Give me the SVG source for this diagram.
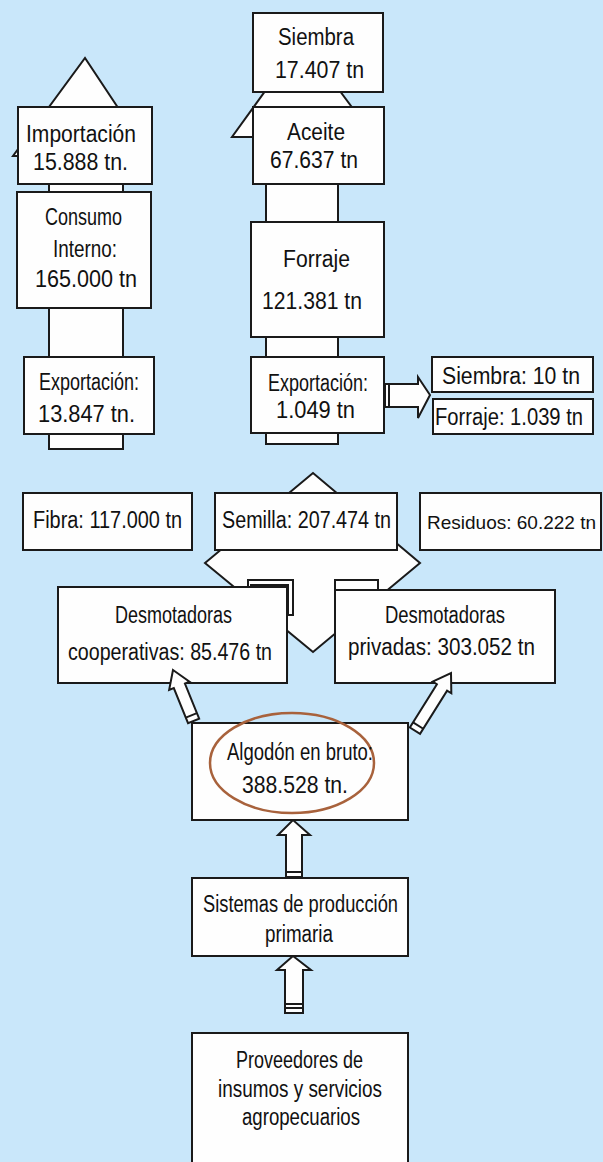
<svg xmlns="http://www.w3.org/2000/svg" width="603" height="1162" viewBox="0 0 603 1162">
<style>
.bg{fill:#c9e7fa}
.box{fill:#fefefe;stroke:#1a1a1a;stroke-width:2}
.arr{fill:#fefefe;stroke:#1a1a1a;stroke-width:2;stroke-linejoin:miter}
.ln{fill:none;stroke:#1a1a1a;stroke-width:2}
.ell{fill:none;stroke:#a8623c;stroke-width:2.5}
text{font-family:"Liberation Sans",Arial,sans-serif;font-size:23px;fill:#111}
</style>
<rect class="bg" width="603" height="1162"/>
<g id="connectors">
  <polygon class="arr" points="49,449 49,156 13,156 85,58 150,156 123,156 123,449"/>
  <polygon class="arr" points="266,444 266,137 232,137 302,40 374,137 338,137 338,444"/>
  <polygon class="arr" points="205,563 313,473 420,563 313,652"/>
  <rect class="arr" x="248" y="580" width="45" height="35"/>
  <polyline class="ln" points="250,585 288,585 288,615"/>
  <rect class="arr" x="335" y="580" width="43" height="12"/>
  <polygon class="arr" points="385,384 418,384 418,377 430,395 418,418 418,407 385,407"/>
  <line class="ln" x1="389" y1="384" x2="389" y2="407"/>
  <polygon class="arr" points="286,877 286,835 278,835 293,820 310,835 302,835 302,877"/>
  <line class="ln" x1="286" y1="872" x2="302" y2="872"/>
  <polygon class="arr" points="285,1013 285,970 277,970 293,956 311,970 303,970 303,1013"/>
  <line class="ln" x1="285" y1="1004" x2="303" y2="1004"/>
  <line class="ln" x1="285" y1="1008" x2="303" y2="1008"/>
</g>
<g id="importacion"><rect class="box" x="18" y="107" width="134" height="77"/>
  <text x="26" y="142" textLength="110" lengthAdjust="spacingAndGlyphs">Importación</text>
  <text x="33" y="170" textLength="95" lengthAdjust="spacingAndGlyphs">15.888 tn.</text></g>
<g id="consumo"><rect class="box" x="17" y="192" width="134" height="116"/>
  <text x="45" y="225" textLength="77" lengthAdjust="spacingAndGlyphs">Consumo</text>
  <text x="53" y="257" textLength="64" lengthAdjust="spacingAndGlyphs">Interno:</text>
  <text x="35" y="287" textLength="102" lengthAdjust="spacingAndGlyphs">165.000 tn</text></g>
<g id="exportacion-fibra"><rect class="box" x="24" y="357" width="130" height="77"/>
  <text x="39" y="390" textLength="100" lengthAdjust="spacingAndGlyphs">Exportación:</text>
  <text x="38" y="422" textLength="97" lengthAdjust="spacingAndGlyphs">13.847 tn.</text></g>
<g id="siembra"><rect class="box" x="253" y="13" width="130" height="79"/>
  <text x="278" y="45" textLength="76" lengthAdjust="spacingAndGlyphs">Siembra</text>
  <text x="275" y="78" textLength="89" lengthAdjust="spacingAndGlyphs">17.407 tn</text></g>
<g id="aceite"><rect class="box" x="253" y="107" width="131" height="77"/>
  <text x="287" y="140" textLength="58" lengthAdjust="spacingAndGlyphs">Aceite</text>
  <text x="270" y="168" textLength="88" lengthAdjust="spacingAndGlyphs">67.637 tn</text></g>
<g id="forraje"><rect class="box" x="251" y="222" width="133" height="115"/>
  <text x="283" y="267" textLength="67" lengthAdjust="spacingAndGlyphs">Forraje</text>
  <text x="262" y="309" textLength="100" lengthAdjust="spacingAndGlyphs">121.381 tn</text></g>
<g id="exportacion-semilla"><rect class="box" x="251" y="357" width="133" height="76"/>
  <text x="268" y="391" textLength="100" lengthAdjust="spacingAndGlyphs">Exportación:</text>
  <text x="276" y="418" textLength="79" lengthAdjust="spacingAndGlyphs">1.049 tn</text></g>
<g id="siembra-export"><rect class="box" x="432" y="357" width="161" height="35"/>
  <text x="442" y="384" textLength="138" lengthAdjust="spacingAndGlyphs">Siembra: 10 tn</text></g>
<g id="forraje-export"><rect class="box" x="433" y="399" width="160" height="35"/>
  <text x="435" y="425" textLength="148" lengthAdjust="spacingAndGlyphs">Forraje: 1.039 tn</text></g>
<g id="fibra"><rect class="box" x="23" y="493" width="169" height="57"/>
  <text x="33" y="528" textLength="149" lengthAdjust="spacingAndGlyphs">Fibra: 117.000 tn</text></g>
<g id="semilla"><rect class="box" x="215" y="493" width="182" height="57"/>
  <text x="222" y="528" textLength="169" lengthAdjust="spacingAndGlyphs">Semilla: 207.474 tn</text></g>
<g id="residuos"><rect class="box" x="420" y="493" width="181" height="57"/>
  <text x="427" y="529" style="font-size:19px">Residuos: 60.222 tn</text></g>
<g id="desmotadoras-cooperativas"><rect class="box" x="58" y="587" width="229" height="96"/>
  <text x="115" y="623" textLength="117" lengthAdjust="spacingAndGlyphs">Desmotadoras</text>
  <text x="68" y="660" textLength="204" lengthAdjust="spacingAndGlyphs">cooperativas: 85.476 tn</text></g>
<g id="desmotadoras-privadas"><rect class="box" x="335" y="590" width="220" height="93"/>
  <text x="385" y="623" textLength="120" lengthAdjust="spacingAndGlyphs">Desmotadoras</text>
  <text x="348" y="655" textLength="187" lengthAdjust="spacingAndGlyphs">privadas: 303.052 tn</text></g>
<g id="algodon"><rect class="box" x="192" y="723" width="216" height="97"/>
  <ellipse class="ell" cx="292" cy="763" rx="82" ry="50"/>
  <text x="227" y="760" textLength="146" lengthAdjust="spacingAndGlyphs">Algodón en bruto:</text>
  <text x="242" y="793" textLength="106" lengthAdjust="spacingAndGlyphs">388.528 tn.</text></g>
<g id="sistemas"><rect class="box" x="192" y="878" width="216" height="78"/>
  <text x="203" y="912" textLength="195" lengthAdjust="spacingAndGlyphs">Sistemas de producción</text>
  <text x="265" y="942" textLength="68" lengthAdjust="spacingAndGlyphs">primaria</text></g>
<g id="proveedores"><rect class="box" x="192" y="1033" width="216" height="140"/>
  <text x="236" y="1068" textLength="127" lengthAdjust="spacingAndGlyphs">Proveedores de</text>
  <text x="218" y="1097" textLength="164" lengthAdjust="spacingAndGlyphs">insumos y servicios</text>
  <text x="242" y="1125" textLength="118" lengthAdjust="spacingAndGlyphs">agropecuarios</text></g>
<g id="connectors-front">
  <g transform="translate(173,670) rotate(-22)">
    <polygon class="arr" points="0,0 11,17 6,17 6,55 -6,55 -6,17 -11,17"/>
    <line class="ln" x1="-6" y1="49" x2="6" y2="49"/>
  </g>
  <g transform="translate(451,673) rotate(32)">
    <polygon class="arr" points="0,0 11,17 6,17 6,68 -6,68 -6,17 -11,17"/>
    <line class="ln" x1="-6" y1="62" x2="6" y2="62"/>
  </g>
</g>
</svg>
